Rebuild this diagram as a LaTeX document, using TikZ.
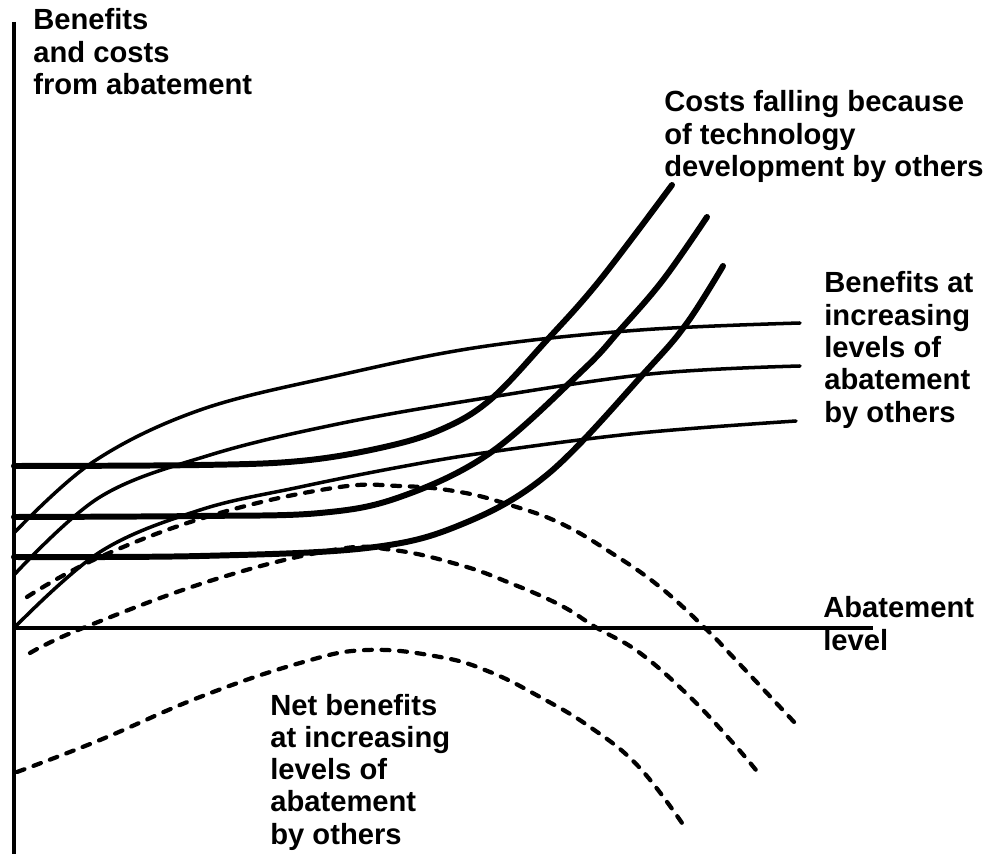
\documentclass[tikz,border=0pt]{standalone}
\usepackage{fontspec}
\newfontfamily\plotfont{Liberation Sans}

\begin{document}
\begin{tikzpicture}[x=0.02cm,y=-0.02cm,
  axis/.style={color=black,line width=2.3pt},
  benefit/.style={color=black,line width=2pt,line cap=round},
  cost/.style={color=black,line width=3.4pt,line cap=round},
  net/.style={color=black,line width=2.4pt,line cap=round,dash pattern=on 4.5pt off 5.5pt},
  lbl/.style={anchor=base west,inner sep=0pt,font=\plotfont\bfseries\fontsize{16.6pt}{18.4pt}\selectfont}]
\useasboundingbox (0,0) rectangle (994,854);
% axes
\coordinate (O) at (14,628);
\coordinate (ytop) at (14,22);
\coordinate (ybot) at (14,854);
\coordinate (xend) at (873,628);
\draw[axis] (ytop) -- (ybot);
\draw[axis] (O) -- (xend);
% benefits
\draw[benefit] plot[smooth,tension=0.6] coordinates {(14,533) (93,462) (200,410) (340,375) (480,347) (640,330) (800,323)};
\draw[benefit] plot[smooth,tension=0.6] coordinates {(14,575) (100,497) (210,455) (333,425) (473,400) (650,374) (800,366)};
\draw[benefit] plot[smooth,tension=0.6] coordinates {(O) (100,552) (200,510) (300,487) (400,467) (490,452) (640,433) (796,421)};
% costs
\draw[cost] plot[smooth,tension=0.6] coordinates {(14,466) (200,465) (300,461) (380,448) (440,430) (490,400) (547,340) (600,280) (672,185)};
\draw[cost] plot[smooth,tension=0.6] coordinates {(14,517) (200,516) (320,513) (400,497) (490,453) (583,370) (620,330) (663,280) (707,217)};
\draw[cost] plot[smooth,tension=0.6] coordinates {(14,557) (200,556) (367,548) (460,525) (548,474) (647,370) (687,323) (723,266)};
% net benefits
\draw[net] plot[smooth,tension=0.7] coordinates {(27,597) (100,557) (213,515) (333,488) (400,486) (460,492) (510,505) (560,523) (610,552) (660,587) (707,630) (733,657) (795,723)};
\draw[net] plot[smooth,tension=0.7] coordinates {(30,653) (83,628) (213,580) (333,550) (393,550) (460,565) (510,583) (560,605) (597,628) (640,653) (690,697) (733,743) (760,775)};
\draw[net] plot[smooth,tension=0.7] coordinates {(17,772) (100,740) (200,697) (300,663) (367,650) (440,657) (490,672) (540,697) (590,727) (638,766) (682,823)};
% labels
\node[lbl] (ylabel) at (33,30) {\parbox[t]{8cm}{Benefits\\and costs\\from abatement}};
\node[lbl] (costlabel) at (664,112) {\parbox[t]{8cm}{Costs falling because\\of technology\\development by others}};
\node[lbl] (benlabel) at (824,293) {\parbox[t]{8cm}{Benefits at\\increasing\\levels of\\abatement\\by others}};
\node[lbl] (xlabel) at (823,618) {\parbox[t]{8cm}{Abatement\\level}};
\node[lbl] (netlabel) at (270,715) {\parbox[t]{8cm}{Net benefits\\at increasing\\levels of\\abatement\\by others}};
\end{tikzpicture}
\end{document}
